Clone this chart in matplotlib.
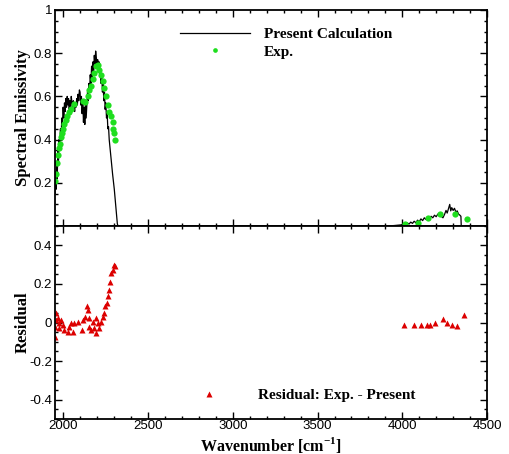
import matplotlib
matplotlib.use("Agg")
import matplotlib.pyplot as plt
from matplotlib.ticker import MultipleLocator, FuncFormatter

# calculated spectrum (wavenumber, emissivity)
calc_wn = [1950, 1953, 1956, 1960, 1963, 1967, 1970, 1974, 1978, 1982, 1986, 1990,
           1994, 1998, 2002, 2006, 2010, 2014, 2018, 2022, 2026, 2030, 2034, 2038,
           2042, 2046, 2050, 2054, 2058, 2062, 2066, 2070, 2074, 2078, 2082, 2086,
           2090, 2094, 2098, 2102, 2106, 2110, 2114, 2118, 2122, 2126, 2130, 2134,
           2138, 2142, 2146, 2150, 2154, 2158, 2162, 2166, 2170, 2174, 2178, 2182,
           2186, 2190, 2194, 2198, 2202, 2206, 2210, 2214, 2218, 2222, 2226, 2230,
           2234, 2238, 2242, 2246, 2250, 2254, 2258, 2262, 2266, 2270, 2280, 2290,
           2300, 2310, 2318, 2322,
           3900, 3950, 3990, 4010, 4020, 4030, 4040, 4050, 4060, 4070, 4080, 4090,
           4100, 4110, 4120, 4130, 4140, 4150, 4160, 4170, 4180, 4190, 4200, 4210,
           4220, 4230, 4240, 4250, 4258, 4265, 4272, 4280, 4286, 4292, 4300, 4308,
           4316, 4324, 4332, 4340, 4346, 4348, 4350]
calc_eps = [0.15, 0.25, 0.17, 0.30, 0.22, 0.35, 0.28, 0.40, 0.36, 0.45, 0.40, 0.50,
            0.47, 0.55, 0.50, 0.57, 0.53, 0.59, 0.55, 0.60, 0.56, 0.59, 0.54, 0.58,
            0.55, 0.60, 0.57, 0.55, 0.58, 0.56, 0.53, 0.57, 0.55, 0.59, 0.56, 0.61,
            0.58, 0.63, 0.62, 0.56, 0.60, 0.52, 0.58, 0.48, 0.55, 0.47, 0.58, 0.50,
            0.56, 0.62, 0.58, 0.66, 0.62, 0.70, 0.66, 0.74, 0.69, 0.76, 0.72, 0.79,
            0.75, 0.81, 0.78, 0.74, 0.77, 0.72, 0.76, 0.70, 0.73, 0.66, 0.70, 0.62,
            0.66, 0.58, 0.62, 0.54, 0.57, 0.50, 0.52, 0.45, 0.46, 0.40, 0.32, 0.24,
            0.17, 0.08, 0.01, 0.0,
            0.0, 0.002, 0.005, 0.008, 0.004, 0.014, 0.009, 0.018, 0.012, 0.022, 0.015, 0.027,
            0.020, 0.033, 0.025, 0.038, 0.030, 0.042, 0.034, 0.045, 0.038, 0.050, 0.043, 0.055,
            0.058, 0.045, 0.038, 0.055, 0.072, 0.060, 0.078, 0.100, 0.070, 0.085, 0.072, 0.082,
            0.065, 0.070, 0.055, 0.050, 0.045, 0.0, 0.0]

# experimental points
exp_wn = [1950, 1953, 1961, 1967, 1972, 1981, 1986, 1992, 2000, 2006, 2012, 2019,
          2035, 2045, 2065, 2114, 2129, 2143, 2153, 2163, 2172, 2182, 2192, 2202,
          2212, 2222, 2231, 2241, 2251, 2261, 2270, 2280, 2290, 2294, 2300, 2306,
          4016, 4090, 4153, 4225, 4310, 4384]
exp_eps = [0.21, 0.24, 0.29, 0.33, 0.36, 0.38, 0.41, 0.43, 0.45, 0.47, 0.49, 0.51,
           0.53, 0.54, 0.565, 0.58, 0.575, 0.60, 0.63, 0.65, 0.68, 0.71, 0.74, 0.745,
           0.72, 0.70, 0.67, 0.64, 0.60, 0.56, 0.53, 0.51, 0.48, 0.45, 0.43, 0.40,
           0.008, 0.012, 0.036, 0.054, 0.054, 0.032]

# residual exp - present
res_wn = [1957, 1953, 1950, 1950, 1966, 1972, 1976, 1986, 1996, 2006, 2025, 2035,
          2045, 2055, 2065, 2084, 2108, 2114, 2129, 2139, 2143, 2149, 2153, 2163,
          2172, 2178, 2192, 2192, 2202, 2212, 2222, 2231, 2237, 2247, 2255, 2261,
          2270, 2276, 2280, 2290, 2296, 2306,
          4010, 4070, 4113, 4143, 4166, 4196, 4243, 4263, 4292, 4323, 4364]
res_val = [0.049, 0.014, -0.021, -0.073, 0.023, -0.003, -0.029, 0.014, -0.012, -0.038, -0.047, -0.021,
           -0.003, -0.047, -0.003, 0.005, -0.038, 0.014, 0.031, 0.083, 0.066, 0.023, -0.021, -0.038,
           0.005, -0.029, -0.055, 0.023, -0.003, -0.029, 0.005, 0.031, 0.049, 0.083, 0.101, 0.135,
           0.170, 0.209, 0.257, 0.274, 0.300, 0.294,
           -0.012, -0.012, -0.015, -0.012, -0.012, 0.0, 0.018, 0.0, -0.014, -0.02, 0.04]

serif = "Liberation Serif"
sans = "Liberation Sans"
plt.rcParams["font.family"] = sans
plt.rcParams["mathtext.fontset"] = "custom"
plt.rcParams["mathtext.rm"] = serif + ":bold"
plt.rcParams["mathtext.bf"] = serif + ":bold"

fig = plt.figure(figsize=(5.09, 4.54), dpi=100)
W, H = 509.0, 454.0
ax1 = fig.add_axes([55 / W, 1 - 226 / H, 432 / W, 216 / H])
ax2 = fig.add_axes([55 / W, 1 - 419 / H, 432 / W, 193 / H])

ax1.plot(calc_wn, calc_eps, color="black", lw=0.9, label="Present Calculation")
ax1.plot(exp_wn, exp_eps, "o", color="#1ede1e", ms=4.5, mec="none", label="Exp.")
ax2.plot(res_wn, res_val, "^", color="#dc0000", ms=5.0, mec="none",
         label="Residual: Exp. - Present")

fmt = FuncFormatter(lambda v, p: "%g" % v)
for ax in (ax1, ax2):
    ax.set_xlim(1950, 4500)
    ax.xaxis.set_major_locator(MultipleLocator(500))
    ax.xaxis.set_minor_locator(MultipleLocator(100))
    ax.yaxis.set_minor_locator(MultipleLocator(0.05))
    ax.yaxis.set_major_formatter(fmt)
    ax.tick_params(which="both", direction="in", top=True, right=True, width=1.0)
    ax.tick_params(which="major", length=5, labelsize=9.5, pad=2)
    ax.tick_params(which="minor", length=2.5)
    for s in ax.spines.values():
        s.set_linewidth(1.3)

ax1.set_ylim(0, 1)
ax1.set_yticks([0.2, 0.4, 0.6, 0.8, 1.0])
ax1.tick_params(labelbottom=False)
ax2.set_ylim(-0.5, 0.5)
ax2.set_yticks([-0.4, -0.2, 0, 0.2, 0.4])
ax2.xaxis.set_major_formatter(fmt)
ax2.tick_params(axis="x", which="major", pad=1)

lab = dict(fontfamily=serif, fontweight="bold", fontsize=12)
ax1.set_ylabel("Spectral Emissivity", va="center", **lab)
ax1.yaxis.set_label_coords(-0.075, 0.5)
ax2.set_ylabel("Residual", va="center", **lab)
ax2.yaxis.set_label_coords(-0.075, 0.5)
ax2.set_xlabel(r"Wavenumber [cm$^{\mathbf{-1}}$]", va="center",
               fontfamily=serif, fontweight="bold", fontsize=11.5)
ax2.xaxis.set_label_coords(0.5, -0.133)

leg_font = dict(family=serif, weight="bold", size=11)
ax1.legend(loc="upper left", bbox_to_anchor=(0.289, 0.919), frameon=False,
           prop=leg_font, handlelength=4.6, handletextpad=0.9, labelspacing=0.25,
           borderpad=0, borderaxespad=0, markerscale=0.75)
ax2.legend(loc="upper left", bbox_to_anchor=(0.275, 0.158), frameon=False,
           prop=leg_font, handlelength=4.6, handletextpad=0.9,
           borderpad=0, borderaxespad=0, markerscale=0.75)

fig.savefig("out.png", dpi=100)
